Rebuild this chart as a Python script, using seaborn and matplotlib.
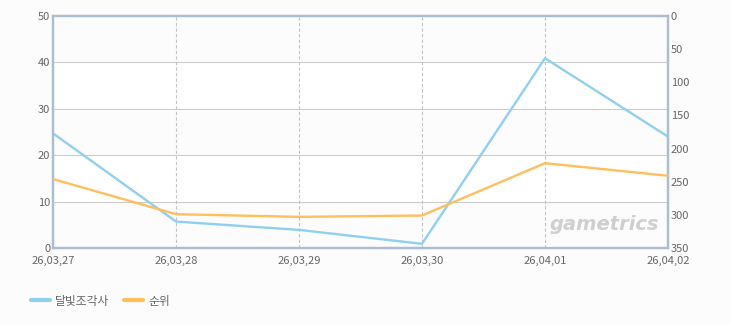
import matplotlib
matplotlib.use("Agg")
import matplotlib.pyplot as plt
import seaborn as sns
import pandas as pd

dates = ["26,03,27", "26,03,28", "26,03,29", "26,03,30", "26,04,01", "26,04,02"]
series_blue = [24.7, 5.7, 3.9, 0.9, 40.9, 24.0]
rank_orange = [246, 299, 303, 301, 222, 241]
left_ticks = [0, 10, 20, 30, 40, 50]
right_ticks = [0, 50, 100, 150, 200, 250, 300, 350]
name_blue = "달빛조각사"
name_orange = "순위"

sns.set_theme(style="white")
plt.rcParams['font.family'] = ['Noto Sans CJK KR', 'DejaVu Sans']

BLUE = "#8fd0f0"
ORANGE = "#ffbf5c"
SPINE = "#aabdd3"
TXT = "#666666"

fig = plt.figure(figsize=(7.3, 3.25), dpi=100, facecolor="#fcfcfc")
ax = fig.add_axes([53/730, 77/325, 615/730, 232/325])
ax.set_facecolor("#fcfcfc")

df = pd.DataFrame({"x": range(len(dates)), "blue": series_blue, "rank": rank_orange})

# alternating bands
for i, lo in enumerate(left_ticks[:-1]):
    if i % 2 == 1:
        ax.axhspan(lo, lo + 10, color="white", zorder=0, lw=0)

sns.lineplot(data=df, x="x", y="blue", ax=ax, color=BLUE, lw=1.7, zorder=3)
ax.set_ylim(0, 50)
ax.set_xlim(0, len(dates) - 1)
ax.set_yticks(left_ticks)
ax.set_xticks(range(len(dates)))
ax.set_xticklabels(dates)
ax.set_xlabel("")
ax.set_ylabel("")
for y in left_ticks[1:-1]:
    ax.axhline(y, color="#cccccc", lw=0.8, zorder=1)
for x in range(1, len(dates) - 1):
    ax.axvline(x, color="#c4c4c4", lw=0.8, ls=(0, (3, 2)), zorder=1)

ax2 = ax.twinx()
sns.lineplot(data=df, x="x", y="rank", ax=ax2, color=ORANGE, lw=1.7, zorder=3)
ax2.set_ylim(350, 0)
ax2.set_yticks(right_ticks)
ax2.set_ylabel("")

for a in (ax, ax2):
    for s in a.spines.values():
        s.set_color(SPINE)
        s.set_linewidth(1.6)
    a.tick_params(length=0, colors=TXT, labelsize=8, pad=2)
    a.grid(False)
ax.tick_params(axis="x", pad=6)
for lab in ax.get_xticklabels() + ax.get_yticklabels() + ax2.get_yticklabels():
    lab.set_color(TXT)

ax.text(0.985, 0.06, "gametrics", transform=ax.transAxes, ha="right", va="bottom",
        fontsize=14, fontstyle="italic", fontweight="bold", color="#cfcfcf",
        family="DejaVu Sans", zorder=2)

# legend
from matplotlib.lines import Line2D
handles = [Line2D([], [], color=BLUE, lw=3), Line2D([], [], color=ORANGE, lw=3)]
fig.legend(handles, [name_blue, name_orange], loc="center left",
           bbox_to_anchor=(20/730, 1 - 301/325), ncol=2, frameon=False,
           fontsize=8.5, labelcolor=TXT, handlelength=1.6, handletextpad=0.5,
           columnspacing=1.2)

fig.savefig("out.png", dpi=100, facecolor=fig.get_facecolor())
